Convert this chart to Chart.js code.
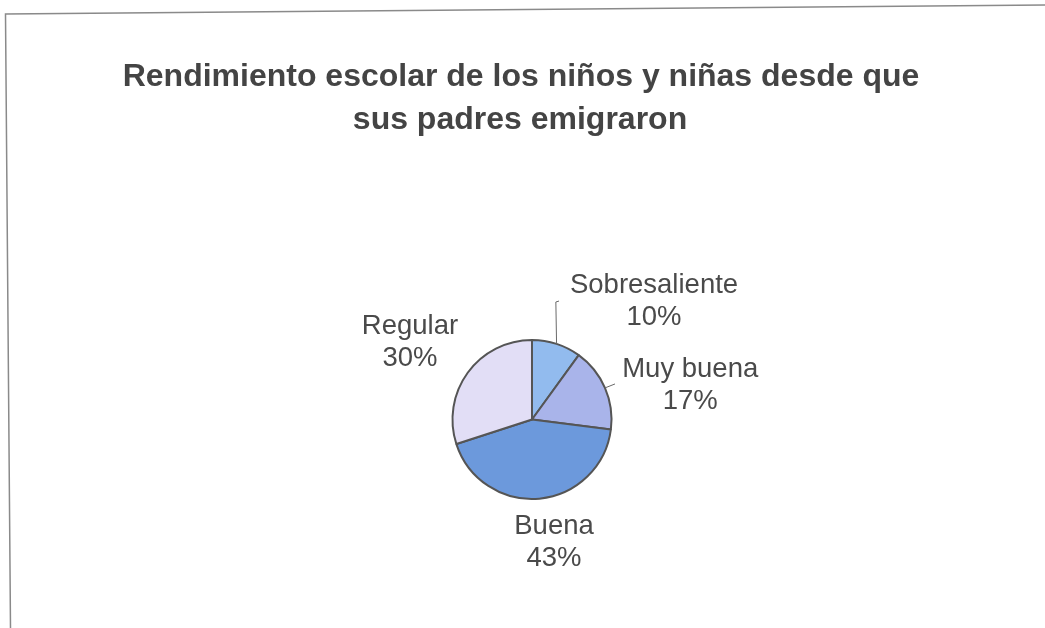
<!DOCTYPE html>
<html>
<head>
<meta charset="utf-8">
<script src="https://cdn.jsdelivr.net/npm/chart.js@4.4.1/dist/chart.umd.min.js"></script>
<style>
  html, body { margin: 0; padding: 0; background: #ffffff; }
  #wrap { position: relative; width: 1045px; height: 628px; }
</style>
</head>
<body>
<div id="wrap"><canvas id="c" width="1045" height="628"></canvas></div>
<script>
// ---- data ----
const categories = ["Sobresaliente", "Muy buena", "Buena", "Regular"];
const values = [10, 17, 43, 30];
const titleLines = ["Rendimiento escolar de los niños y niñas desde que", "sus padres emigraron"];

// ---- styling / layout ----
const sliceColors = ["#92bbee", "#a9b4ea", "#6c99dc", "#e2def6"];
const FONT = '"Liberation Sans", Arial, sans-serif';
// label block centres relative to pie centre, in units of radius
const labelLayout = [
  { dx: 1.535, dy: -1.48, leader: [[0, 0], [0.30, -1.478], [0.34, -1.49]] },
  { dx: 1.99, dy: -0.43, leader: [[0, 0], [1.044, -0.447]] },
  { dx: 0.277, dy: 1.547, leader: null },
  { dx: -1.535, dy: -0.975, leader: null }
];

const framePlugin = {
  id: 'frame',
  beforeDraw(chart) {
    const ctx = chart.ctx;
    ctx.save();
    ctx.fillStyle = '#ffffff';
    ctx.fillRect(0, 0, chart.width, chart.height);
    ctx.strokeStyle = '#8a8a8a';
    ctx.lineWidth = 1.5;
    ctx.beginPath();
    ctx.moveTo(1045, 5);
    ctx.lineTo(5.5, 14);
    ctx.lineTo(10.5, 628);
    ctx.stroke();
    // title
    ctx.fillStyle = '#444444';
    ctx.font = 'bold 32px ' + FONT;
    ctx.textAlign = 'center';
    ctx.textBaseline = 'middle';
    ctx.fillText(titleLines[0], 521, 77);
    ctx.fillText(titleLines[1], 520, 120);
    ctx.restore();
  }
};

const labelPlugin = {
  id: 'pielabels',
  afterDatasetsDraw(chart) {
    const ctx = chart.ctx;
    const meta = chart.getDatasetMeta(0);
    const total = values.reduce((a, b) => a + b, 0);
    ctx.save();
    meta.data.forEach((arc, i) => {
      const cx = arc.x, cy = arc.y, r = arc.outerRadius;
      const mid = (arc.startAngle + arc.endAngle) / 2;
      const L = labelLayout[i];
      if (L.leader) {
        ctx.strokeStyle = '#6a6a6a';
        ctx.lineWidth = 1;
        ctx.beginPath();
        ctx.moveTo(cx + Math.cos(mid) * r, cy + Math.sin(mid) * r);
        for (let k = 1; k < L.leader.length; k++) {
          ctx.lineTo(cx + L.leader[k][0] * r, cy + L.leader[k][1] * r);
        }
        ctx.stroke();
      }
      const tx = cx + L.dx * r, ty = cy + L.dy * r;
      ctx.fillStyle = '#4a4a4a';
      ctx.font = '27.5px ' + FONT;
      ctx.textAlign = 'center';
      ctx.textBaseline = 'middle';
      const pct = Math.round(values[i] / total * 100) + '%';
      ctx.fillText(categories[i], tx, ty - 16);
      ctx.fillText(pct, tx, ty + 16);
    });
    ctx.restore();
  }
};

new Chart(document.getElementById('c'), {
  type: 'pie',
  data: {
    labels: categories,
    datasets: [{
      data: values,
      backgroundColor: sliceColors,
      borderColor: '#555555',
      borderWidth: 2
    }]
  },
  options: {
    responsive: false,
    animation: false,
    radius: 79.5,
    layout: { padding: { left: 332, right: 313, top: 319.5, bottom: 108.5 } },
    plugins: {
      legend: { display: false },
      tooltip: { enabled: false },
      title: { display: false }
    }
  },
  plugins: [framePlugin, labelPlugin]
});
</script>
</body>
</html>
